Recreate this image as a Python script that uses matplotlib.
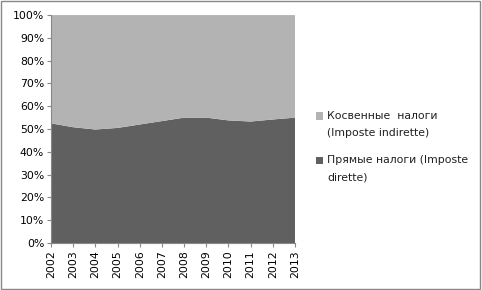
import numpy as np
import matplotlib.pyplot as plt
from matplotlib.patches import Rectangle

years = ['2002', '2003', '2004', '2005', '2006', '2007',
         '2008', '2009', '2010', '2011', '2012', '2013']
direct = [52.5, 50.8, 49.8, 50.5, 52.0, 53.5, 55.0, 55.0, 53.8, 53.3, 54.2, 55.0]
indirect = [100 - v for v in direct]
labels = [['Прямые налоги (Imposte', 'dirette)'],
          ['Косвенные  налоги', '(Imposte indirette)']]
colors = ['#606060', '#b3b3b3']

plt.rcParams['font.family'] = ['DejaVu Sans']
W, H = 482, 290

fig = plt.figure(figsize=(4.82, 2.9), dpi=100)
ax = fig.add_axes([0.106, 0.162, 0.506, 0.786])

x = np.arange(len(years))
ax.stackplot(x, direct, indirect, colors=colors)

ax.set_xlim(0, len(years) - 1)
ax.set_ylim(0, 100)
ax.set_yticks(np.arange(0, 101, 10))
ax.set_yticklabels([f'{v}%' for v in range(0, 101, 10)], fontsize=7.8)
ax.set_xticks(x)
ax.set_xticklabels(years, rotation=90, fontsize=7.8)
ax.tick_params(axis='both', length=3, color='#888888', width=0.8, pad=2)

for s in ['top', 'right']:
    ax.spines[s].set_visible(False)
for s in ['left', 'bottom']:
    ax.spines[s].set_color('#888888')

# legend drawn by hand so the square lines up with the first text line
# (indirect on top, direct below)
entries = [(labels[1], colors[1], 116), (labels[0], colors[0], 160)]
for lines, col, yc in entries:
    fig.patches.append(Rectangle((316 / W, 1 - (yc + 3.5) / H), 7 / W, 7 / H,
                                 transform=fig.transFigure, facecolor=col,
                                 edgecolor='none'))
    for i, t in enumerate(lines):
        fig.text(327 / W, 1 - (yc + i * 17) / H, t, fontsize=7.8,
                 va='center', ha='left', color='#202020')

fig.patches.append(Rectangle((0.002, 0.005), 0.994, 0.99, transform=fig.transFigure,
                             fill=False, edgecolor='#888888', linewidth=1.0))

fig.savefig('out.png', dpi=100)
